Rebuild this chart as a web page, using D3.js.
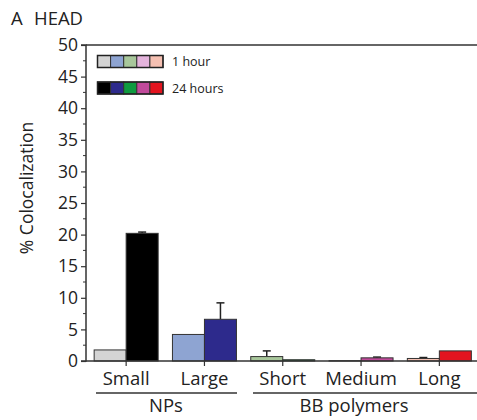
<!DOCTYPE html>
<html>
<head>
<meta charset="utf-8">
<script src="https://cdn.jsdelivr.net/npm/d3@7"></script>
<style>
  body { margin: 0; background: #fff; }
  svg { display: block; font-family: "Open Sans", "Noto Sans", sans-serif; }
</style>
</head>
<body>
<svg id="chart" width="477" height="420"></svg>
<script>
const categories = ["Small", "Large", "Short", "Medium", "Long"];
const groupNames = ["NPs", "BB polymers"];
const groupMembers = [["Small", "Large"], ["Short", "Medium", "Long"]];
const seriesNames = ["1 hour", "24 hours"];
const values1h = [1.75, 4.2, 0.7, 0.05, 0.4];
const err1h = [0, 0, 0.9, 0, 0.15];
const values24h = [20.2, 6.6, 0.2, 0.5, 1.6];
const err24h = [0.2, 2.6, 0, 0.12, 0];
const colors1h = ["#d4d4d4", "#8ea4d2", "#a8c79b", "#e4b4dc", "#f5c0b2"];
const colors24h = ["#000000", "#2d2a8c", "#0f9b40", "#c14a9b", "#e3141f"];
const yTicks = [0, 5, 10, 15, 20, 25, 30, 35, 40, 45, 50];

const svg = d3.select("#chart");
const x0 = 86, x1 = 477, yTop = 45, yBase = 361;

const x = d3.scaleBand().domain(categories).range([87, 478.5]).padding(0);
const bw = 32;
const sub = d3.scaleBand().domain(seriesNames)
  .range([x.bandwidth() / 2 - bw, x.bandwidth() / 2 + bw]).padding(0);
const y = d3.scaleLinear().domain([0, 50]).range([yBase, yTop]);

// title
svg.append("text").attr("x", 11).attr("y", 25).attr("font-size", 18.5).attr("fill", "#222").text("A");
svg.append("text").attr("x", 34).attr("y", 25).attr("font-size", 18.5).attr("fill", "#222").text("HEAD");

// y label
svg.append("text").attr("transform", `translate(33,${188}) rotate(-90)`)
  .attr("text-anchor", "middle").attr("font-size", 17.5).attr("fill", "#222")
  .text("% Colocalization");

// top frame line
svg.append("line").attr("x1", x0).attr("x2", x1).attr("y1", yTop).attr("y2", yTop)
  .attr("stroke", "#333").attr("stroke-width", 1.5);

// minor ticks
const minor = d3.range(2.5, 50, 5);
svg.append("g").selectAll("line").data(minor).join("line")
  .attr("x1", x0 - 3).attr("x2", x0).attr("y1", d => y(d)).attr("y2", d => y(d))
  .attr("stroke", "#333").attr("stroke-width", 1);

// y axis
const yAxis = d3.axisLeft(y).tickValues(yTicks).tickSize(5).tickPadding(3);
const gy = svg.append("g").attr("transform", `translate(${x0},0)`).call(yAxis);
gy.select(".domain").attr("stroke", "#333").attr("stroke-width", 1.5).attr("d", `M-5,${yBase}H0V${yTop}H-5`);
gy.selectAll(".tick line").attr("stroke", "#333").attr("stroke-width", 1.2);
gy.selectAll(".tick text").attr("font-size", 17.5).attr("fill", "#222")
  .attr("font-family", "'Open Sans', 'Noto Sans', sans-serif");

// bars
const rows = categories.map((c, i) => ({
  cat: c,
  bars: [
    { s: seriesNames[0], v: values1h[i], e: err1h[i], col: colors1h[i] },
    { s: seriesNames[1], v: values24h[i], e: err24h[i], col: colors24h[i] }
  ]
}));

const gBars = svg.append("g");
const groups = gBars.selectAll("g").data(rows).join("g")
  .attr("transform", d => `translate(${x(d.cat)},0)`);

// error bars
groups.selectAll("g.err").data(d => d.bars.filter(b => b.e > 0)).join("g").attr("class", "err")
  .each(function (b) {
    const g = d3.select(this);
    const cx = sub(b.s) + sub.bandwidth() / 2;
    g.append("line").attr("x1", cx).attr("x2", cx).attr("y1", y(b.v)).attr("y2", y(b.v + b.e))
      .attr("stroke", "#222").attr("stroke-width", 1.5);
    g.append("line").attr("x1", cx - 4).attr("x2", cx + 4).attr("y1", y(b.v + b.e)).attr("y2", y(b.v + b.e))
      .attr("stroke", "#222").attr("stroke-width", 1.5);
  });

groups.selectAll("rect").data(d => d.bars).join("rect")
  .attr("x", b => sub(b.s))
  .attr("width", sub.bandwidth())
  .attr("y", b => y(b.v))
  .attr("height", b => yBase - y(b.v))
  .attr("fill", b => b.col)
  .attr("stroke", "#333").attr("stroke-width", 1);

// x axis baseline
const xAxis = d3.axisBottom(x).tickSize(5).tickPadding(6);
const gx = svg.append("g").attr("transform", `translate(0,${yBase})`).call(xAxis);
gx.select(".domain").attr("d", `M${x0},0H${x1}`).attr("stroke", "#333").attr("stroke-width", 1.5);
gx.selectAll(".tick line").attr("stroke", "#333").attr("stroke-width", 1.2);
gx.selectAll(".tick text").attr("font-size", 18.5).attr("fill", "#222")
  .attr("font-family", "'Open Sans', 'Noto Sans', sans-serif");

// group brackets
const groupExt = [[96, 237], [253, 477]];
const groupLabelX = [166, 354];
groupNames.forEach((g, i) => {
  const gx1 = groupExt[i][0], gx2 = groupExt[i][1];
  svg.append("line").attr("x1", gx1).attr("x2", gx2).attr("y1", 393).attr("y2", 393)
    .attr("stroke", "#333").attr("stroke-width", 1.5);
  svg.append("text").attr("x", groupLabelX[i]).attr("y", 412)
    .attr("text-anchor", "middle").attr("font-size", 18.5).attr("fill", "#222").text(g);
});

// legend
const legRows = [colors1h, colors24h];
const legY = [55.5, 82];
legRows.forEach((cols, r) => {
  const g = svg.append("g");
  g.selectAll("rect").data(cols).join("rect")
    .attr("x", (d, i) => 97.5 + i * 13.1).attr("y", legY[r])
    .attr("width", 13.1).attr("height", 12)
    .attr("fill", d => d).attr("stroke", "#333").attr("stroke-width", 1);
  g.append("rect").attr("x", 97.5).attr("y", legY[r]).attr("width", 13.1 * 5).attr("height", 12)
    .attr("fill", "none").attr("stroke", "#222").attr("stroke-width", 1.5);
  g.append("text").attr("x", 172).attr("y", legY[r] + 10.5).attr("font-size", 12.5).attr("fill", "#222")
    .text(seriesNames[r]);
});
</script>
</body>
</html>
